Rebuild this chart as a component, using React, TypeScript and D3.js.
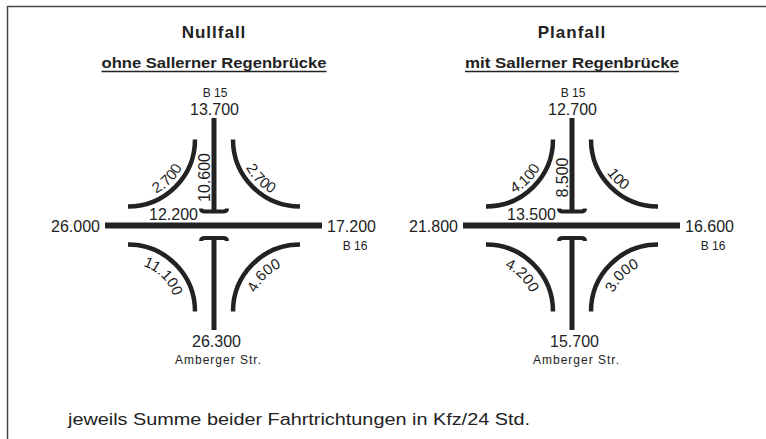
import * as d3 from 'd3';

// Values
const cases = ['Nullfall', 'Planfall'];
const subtitles = ['ohne Sallerner Regenbrücke', 'mit Sallerner Regenbrücke'];
const northTotals = ['13.700', '12.700'];
const westTotals = ['26.000', '21.800'];
const eastTotals = ['17.200', '16.600'];
const southTotals = ['26.300', '15.700'];
const northStem = ['10.600', '8.500'];
const southStem = ['12.200', '13.500'];
const turnNW = ['2.700', '4.100'];
const turnNE = ['2.700', '100'];
const turnSW = ['11.100', '4.200'];
const turnSE = ['4.600', '3.000'];
const roadNames = { north: 'B 15', east: 'B 16', south: 'Amberger Str.' };
const footnote = 'jeweils Summe beider Fahrtrichtungen in Kfz/24 Std.';

const W = 766, H = 439;
const CY = 225.5;
const INK = '#222';
const FONT = '"Liberation Sans", Arial, Helvetica, sans-serif';

const panelX = d3.scalePoint<string>().domain(cases).range([214, 572]);
// local diagram units -> pixels (1:1, centred on the junction)
const lx = d3.scaleLinear().domain([-1, 1]).range([-1, 1]);
const ly = d3.scaleLinear().domain([-1, 1]).range([CY - 1, CY + 1]);

const A = 19, B = 86, R = B - A;
const line = d3.line<[number, number]>().x((d) => lx(d[0])).y((d) => ly(d[1]));

function arc(cx: number, cy: number, r: number, a0: number, a1: number, ccw: boolean) {
  const p = d3.path();
  p.moveTo(lx(cx) + r * Math.cos(a0), ly(cy) + r * Math.sin(a0));
  p.arc(lx(cx), ly(cy), r, a0, a1, ccw);
  return p.toString();
}

const PI = Math.PI;
// corner turns: centre, start/end angle, direction, baseline radius for the label
const corners = [
  { key: 'nw', vals: turnNW, cx: -B, cy: -B, a0: PI / 2, a1: 0, ccw: true, tr: 61 },
  { key: 'ne', vals: turnNE, cx: B, cy: -B, a0: PI, a1: PI / 2, ccw: true, tr: 61 },
  { key: 'sw', vals: turnSW, cx: -B, cy: B, a0: -PI / 2, a1: 0, ccw: false, tr: 48 },
  { key: 'se', vals: turnSE, cx: B, cy: B, a0: PI, a1: (3 * PI) / 2, ccw: false, tr: 48 },
];

function Panel({ i }: { i: number }) {
  const name = cases[i];
  const cx = panelX(name) as number;
  const subW = i === 0 ? 225 : 214;
  return (
    <g>
      <text x={cx} y={38} textAnchor="middle" fontSize={17} fontWeight="bold" letterSpacing={1} fill={INK}>
        {name}
      </text>
      <text x={cx} y={68} textAnchor="middle" fontSize={15} fontWeight="bold" fill={INK}
        textLength={subW} lengthAdjust="spacingAndGlyphs">
        {subtitles[i]}
      </text>
      <line x1={cx - subW / 2} x2={cx + subW / 2} y1={71.5} y2={71.5} stroke={INK} strokeWidth={1.5} />

      <g transform={`translate(${cx},0)`}>
        {/* main road B16 */}
        <path d={line([[-109, 0], [108, 0]]) as string} stroke={INK} strokeWidth={6} fill="none" />
        {/* north stem + cap */}
        <path d={line([[0, -107.5], [0, -14]]) as string} stroke={INK} strokeWidth={5} fill="none" />
        <path
          d={`M${lx(-13)},${ly(-17)} Q${lx(-13)},${ly(-14)} ${lx(-9)},${ly(-14)} L${lx(9)},${ly(-14)} Q${lx(13)},${ly(-14)} ${lx(13)},${ly(-17)}`}
          stroke={INK} strokeWidth={4} fill="none" />
        {/* south stem + cap */}
        <path d={line([[0, 12.5], [0, 104.5]]) as string} stroke={INK} strokeWidth={5} fill="none" />
        <path
          d={`M${lx(-13)},${ly(15.5)} Q${lx(-13)},${ly(12.5)} ${lx(-9)},${ly(12.5)} L${lx(9)},${ly(12.5)} Q${lx(13)},${ly(12.5)} ${lx(13)},${ly(15.5)}`}
          stroke={INK} strokeWidth={4} fill="none" />

        {corners.map((c) => (
          <g key={c.key}>
            <path d={arc(c.cx, c.cy, R, c.a0, c.a1, c.ccw)} stroke={INK} strokeWidth={4.5} fill="none" />
            <path id={`tp-${i}-${c.key}`} d={arc(c.cx, c.cy, c.tr, c.a0, c.a1, c.ccw)} fill="none" stroke="none" />
            <text fontSize={15} fill={INK}>
              <textPath href={`#tp-${i}-${c.key}`} startOffset="50%" textAnchor="middle">
                {c.vals[i]}
              </textPath>
            </text>
          </g>
        ))}

        {/* labels */}
        <text x={1} y={ly(-128.5)} textAnchor="middle" fontSize={12} fill={INK}>{roadNames.north}</text>
        <text x={0.5} y={ly(-110.5)} textAnchor="middle" fontSize={16} fill={INK}>{northTotals[i]}</text>
        <text transform={`translate(${lx(-4)},${ly(-48)}) rotate(-90)`} textAnchor="middle" fontSize={16} fill={INK}>
          {northStem[i]}
        </text>
        <text x={lx(-16)} y={ly(-5.5)} textAnchor="end" fontSize={16} fill={INK}>{southStem[i]}</text>
        <text x={lx(-114)} y={ly(6)} textAnchor="end" fontSize={16} fill={INK}>{westTotals[i]}</text>
        <text x={lx(113)} y={ly(6)} fontSize={16} fill={INK}>{eastTotals[i]}</text>
        <text x={lx(141)} y={ly(24.5)} textAnchor="middle" fontSize={12} fill={INK}>{roadNames.east}</text>
        <text x={lx(2.5)} y={ly(121.5)} textAnchor="middle" fontSize={16} fill={INK}>{southTotals[i]}</text>
        <text x={lx(4.5)} y={ly(138.5)} textAnchor="middle" fontSize={12} letterSpacing={1} fill={INK}>
          {roadNames.south}
        </text>
      </g>
    </g>
  );
}

export default function App() {
  return (
    <svg width={W} height={H} viewBox={`0 0 ${W} ${H}`}
      style={{ position: 'absolute', left: 0, top: 0, background: '#fff', fontFamily: FONT }}>
      <rect width={W} height={H} fill="#fff" />
      {/* frame: only top and left edges are visible */}
      <path d={`M7.5,${H} L7.5,6.5 L${W},6.5`} stroke="#444" strokeWidth={1.5} fill="none" />
      {cases.map((c, i) => (
        <Panel key={c} i={i} />
      ))}
      <text x={68} y={425} fontSize={16} fill={INK} textLength={462} lengthAdjust="spacingAndGlyphs">
        {footnote}
      </text>
    </svg>
  );
}
